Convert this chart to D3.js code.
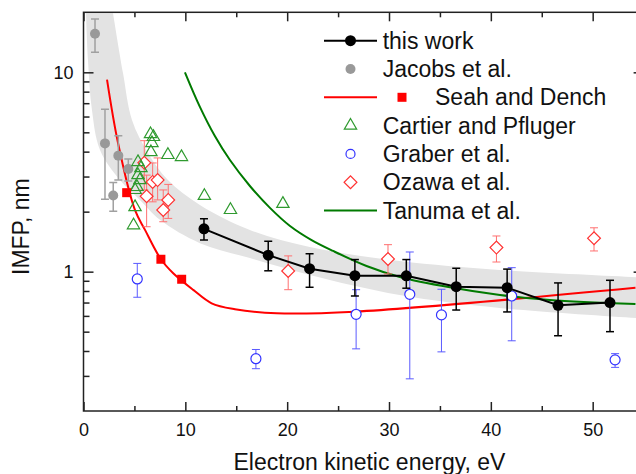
<!DOCTYPE html>
<html>
<head>
<meta charset="utf-8">
<script src="https://cdn.jsdelivr.net/npm/d3@7"></script>
<style>
  body { margin: 0; background: #fff; }
  svg { font-family: "Liberation Sans", Arial, sans-serif; }
</style>
</head>
<body>
<svg id="chart"></svg>
<script>
const width = 636;
const height = 474;

// this work
const thisE = [11.83, 18.14, 22.2, 26.65, 31.7, 36.6, 41.6, 46.6, 51.7];
const thisL = [1.64, 1.21, 1.035, 0.955, 0.953, 0.841, 0.831, 0.678, 0.70];
const thisHi = [1.84, 1.42, 1.23, 1.15, 1.15, 1.04, 1.03, 0.878, 0.905];
const thisLo = [1.44, 1.01, 0.835, 0.755, 0.826, 0.642, 0.628, 0.477, 0.50];

// Jacobs et al.
const jacE = [1.13, 2.11, 3.42, 4.4, 2.92];
const jacL = [15.6, 4.4, 3.82, 3.27, 2.41];
const jacHi = [18.5, 6.52, 4.8, 3.67, 2.8];
const jacLo = [12.6, 2.31, 2.88, 2.85, 2.01];

// Seah and Dench
const seahE = [4.24, 7.6, 9.64];
const seahL = [2.49, 1.154, 0.916];
const seahCurveE = [2.31, 3.39, 5.05, 6.04, 7.6, 8.81, 10.78, 12.58, 14.87, 18.96, 26.64, 54.2];
const seahCurveL = [9.18, 4.42, 2.04, 1.62, 1.154, 0.982, 0.81, 0.694, 0.648, 0.618, 0.630, 0.83];

// Cartier and Pfluger
const cartE = [6.58, 6.87, 6.72, 6.62, 8.29, 9.62, 5.35, 5.64, 5.35, 5.54, 5.25, 5.06, 5.06, 4.91, 11.87, 14.43, 19.58];
const cartL = [4.90, 4.74, 4.42, 3.98, 3.85, 3.76, 3.55, 3.31, 3.05, 2.88, 2.66, 2.57, 2.11, 1.71, 2.40, 2.04, 2.19];

// Graber et al.
const grabE = [5.28, 16.93, 26.77, 32.04, 35.15, 42.05, 52.2];
const grabL = [0.919, 0.366, 0.611, 0.77, 0.607, 0.755, 0.361];
const grabHi = [1.10, 0.407, 0.812, 1.255, 0.816, 1.047, 0.388];
const grabLo = [0.744, 0.326, 0.41, 0.29, 0.396, 0.45, 0.331];

// Ozawa et al.
const ozE = [5.97, 6.79, 7.28, 6.2, 8.32, 7.83, 20.1, 29.9, 40.55, 50.13];
const ozL = [3.52, 2.82, 2.88, 2.39, 2.29, 2.04, 1.008, 1.158, 1.32, 1.47];
const ozHi = [4.54, 3.51, 3.72, 3.05, 2.74, 2.57, 1.20, 1.366, 1.51, 1.66];
const ozLo = [2.57, 2.24, 2.29, 1.68, 1.85, 1.78, 0.812, 0.974, 1.118, 1.27];

// Tanuma et al.
const tanE = [9.96, 11.43, 12.9, 14.38, 16.34, 18.31, 20.28, 22.4, 24.51, 27.79, 31.06, 35.97, 40.9, 45.8, 54.2];
const tanL = [10.0, 6.71, 4.79, 3.63, 2.69, 2.09, 1.695, 1.44, 1.27, 1.068, 0.941, 0.835, 0.764, 0.721, 0.689];

// grey band (universal curve range)
const bandUpE = [2.9, 3.88, 4.76, 6.33, 8.29, 11.43, 16.34, 22.22, 31.05, 40.87, 55];
const bandUpL = [19.8, 9.92, 5.77, 3.94, 2.88, 2.16, 1.62, 1.33, 1.13, 1.02, 0.935];
const bandLoE = [0.25, 0.44, 0.83, 1.62, 3.58, 5.54, 7.51, 11.43, 16.34, 22.22, 31.05, 40.87, 55];
const bandLoL = [19.8, 11.5, 6.47, 4.08, 2.88, 2.29, 1.82, 1.39, 1.17, 0.963, 0.764, 0.658, 0.583];

const xMajor = [0, 10, 20, 30, 40, 50];
const xMinor = [5, 15, 25, 35, 45, 55];
const yMajor = [1, 10];
const yMinor = [0.3, 0.4, 0.5, 0.6, 0.7, 0.8, 0.9, 2, 3, 4, 5, 6, 7, 8, 9];

const legendNames = ["this work", "Jacobs et al.", "Seah and Dench", "Cartier and Pfluger", "Graber et al.", "Ozawa et al.", "Tanuma et al."];

const svg = d3.select("#chart").attr("width", width).attr("height", height);

const x = d3.scaleLinear().domain([0, 55]).range([83.5, 643.6]);
const y = d3.scaleLog().domain([0.2, 20]).range([411, 12.3]);
const x0 = x.range()[0], x1 = x.range()[1], y0 = y.range()[0], y1 = y.range()[1];

svg.append("defs").append("clipPath").attr("id", "plot-clip")
  .append("rect")
  .attr("x", x0).attr("y", y1)
  .attr("width", x1 - x0).attr("height", y0 - y1);

const plot = svg.append("g").attr("clip-path", "url(#plot-clip)");

const zip = (a, b) => a.map((v, i) => [v, b[i]]);
const curve = d3.line().x(d => x(d[0])).y(d => y(d[1])).curve(d3.curveCatmullRom.alpha(0.5));

// band
const upPath = curve(zip(bandUpE, bandUpL));
const loPath = curve(zip(bandLoE, bandLoL).reverse());
plot.append("path")
  .attr("d", upPath + "L" + loPath.slice(1) + "Z")
  .attr("fill", "#e3e3e3")
  .attr("stroke", "none");

// lines
plot.append("path").attr("d", curve(zip(seahCurveE, seahCurveL)))
  .attr("fill", "none").attr("stroke", "#ff0000").attr("stroke-width", 2);
plot.append("path").attr("d", curve(zip(tanE, tanL)))
  .attr("fill", "none").attr("stroke", "#007a00").attr("stroke-width", 2);

function errorBars(g, es, hi, lo, color, width) {
  const cap = 4;
  es.forEach((e, i) => {
    const px = x(e);
    g.append("line").attr("x1", px).attr("x2", px).attr("y1", y(hi[i])).attr("y2", y(lo[i]))
      .attr("stroke", color).attr("stroke-width", width);
    [hi[i], lo[i]].forEach(v => {
      g.append("line").attr("x1", px - cap).attr("x2", px + cap).attr("y1", y(v)).attr("y2", y(v))
        .attr("stroke", color).attr("stroke-width", width);
    });
  });
}

// Jacobs
errorBars(plot, jacE, jacHi, jacLo, "#a0a0a0", 1.5);
plot.selectAll(".jac").data(zip(jacE, jacL)).enter().append("circle")
  .attr("cx", d => x(d[0])).attr("cy", d => y(d[1])).attr("r", 5)
  .attr("fill", "#999999");

// Graber
errorBars(plot, grabE, grabHi, grabLo, "#5a5aff", 1);
plot.selectAll(".grab").data(zip(grabE, grabL)).enter().append("circle")
  .attr("cx", d => x(d[0])).attr("cy", d => y(d[1])).attr("r", 5)
  .attr("fill", "#fff").attr("stroke", "#3333ff").attr("stroke-width", 1.2);

// Ozawa
errorBars(plot, ozE, ozHi, ozLo, "#ff7070", 1);
const diamond = d3.symbol().type(d3.symbolSquare).size(82);
plot.selectAll(".oz").data(zip(ozE, ozL)).enter().append("path")
  .attr("d", diamond)
  .attr("transform", d => `translate(${x(d[0])},${y(d[1])}) rotate(45)`)
  .attr("fill", "#fff").attr("stroke", "#ff3333").attr("stroke-width", 1.2);

// Cartier
const tri = d3.symbol().type(d3.symbolTriangle).size(66);
plot.selectAll(".cart").data(zip(cartE, cartL)).enter().append("path")
  .attr("d", tri)
  .attr("transform", d => `translate(${x(d[0])},${y(d[1])})`)
  .attr("fill", "none").attr("stroke", "#2f9a2f").attr("stroke-width", 1.2);

// Seah squares
plot.selectAll(".seah").data(zip(seahE, seahL)).enter().append("rect")
  .attr("x", d => x(d[0]) - 4.5).attr("y", d => y(d[1]) - 4.5)
  .attr("width", 9).attr("height", 9).attr("fill", "#ff0000");

// this work
plot.append("path").attr("d", d3.line().x(d => x(d[0])).y(d => y(d[1]))(zip(thisE, thisL)))
  .attr("fill", "none").attr("stroke", "#000").attr("stroke-width", 2);
errorBars(plot, thisE, thisHi, thisLo, "#000", 1.5);
plot.selectAll(".tw").data(zip(thisE, thisL)).enter().append("circle")
  .attr("cx", d => x(d[0])).attr("cy", d => y(d[1])).attr("r", 5.5)
  .attr("fill", "#000");

// axes
function styleAxis(g) {
  g.select(".domain").remove();
  g.selectAll("line").attr("stroke", "#222").attr("stroke-width", 1.5);
  g.selectAll("text").attr("font-size", 18).attr("fill", "#111")
    .attr("font-family", "'Liberation Sans', Arial, sans-serif");
}
svg.append("g").attr("transform", `translate(0,${y0})`)
  .call(d3.axisBottom(x).tickValues(xMajor).tickSize(-9).tickPadding(12).tickFormat(d3.format("d")))
  .call(styleAxis);
svg.append("g").attr("transform", `translate(0,${y0})`)
  .call(d3.axisBottom(x).tickValues(xMinor).tickSize(-5).tickFormat(""))
  .call(styleAxis);
svg.append("g").attr("transform", `translate(0,${y1})`)
  .call(d3.axisTop(x).tickValues(xMajor).tickSize(-9).tickFormat(""))
  .call(styleAxis);
svg.append("g").attr("transform", `translate(0,${y1})`)
  .call(d3.axisTop(x).tickValues(xMinor).tickSize(-5).tickFormat(""))
  .call(styleAxis);
svg.append("g").attr("transform", `translate(${x0},0)`)
  .call(d3.axisLeft(y).tickValues(yMajor).tickSize(-10).tickPadding(10).tickFormat(d3.format("d")))
  .call(styleAxis);
svg.append("g").attr("transform", `translate(${x0},0)`)
  .call(d3.axisLeft(y).tickValues(yMinor).tickSize(-6).tickFormat(""))
  .call(styleAxis);
svg.append("g").attr("transform", `translate(${x1},0)`)
  .call(d3.axisRight(y).tickValues(yMajor).tickSize(-10).tickFormat(""))
  .call(styleAxis);
svg.append("g").attr("transform", `translate(${x1},0)`)
  .call(d3.axisRight(y).tickValues(yMinor).tickSize(-6).tickFormat(""))
  .call(styleAxis);

svg.append("rect")
  .attr("x", x0).attr("y", y1).attr("width", x1 - x0).attr("height", y0 - y1)
  .attr("fill", "none").attr("stroke", "#222").attr("stroke-width", 1.5);

// axis titles
svg.append("text")
  .attr("x", (x(0) + x(54.2)) / 2 + 10).attr("y", 469.5)
  .attr("text-anchor", "middle").attr("font-size", 23).attr("fill", "#111")
  .text("Electron kinetic energy, eV");
svg.append("text")
  .attr("transform", `translate(29,${(y0 + y1) / 2 + 15}) rotate(-90)`)
  .attr("text-anchor", "middle").attr("font-size", 23).attr("fill", "#111")
  .text("IMFP, nm");

// legend
const legend = svg.append("g").attr("transform", "translate(324,40.7)");
const rowH = 28.3;
legendNames.forEach((name, i) => {
  const row = legend.append("g").attr("transform", `translate(0,${i * rowH})`);
  const tx = i === 2 ? 111 : 58.7;
  row.append("text").attr("x", tx).attr("y", 0).attr("dy", "0.35em")
    .attr("font-size", 23).attr("fill", "#111").text(name);
  if (i === 0) {
    row.append("line").attr("x1", 0).attr("x2", 53).attr("stroke", "#000").attr("stroke-width", 2);
    row.append("circle").attr("cx", 26.5).attr("r", 5.5).attr("fill", "#000");
  } else if (i === 1) {
    row.append("circle").attr("cx", 26.5).attr("r", 5).attr("fill", "#999999");
  } else if (i === 2) {
    row.append("line").attr("x1", 0).attr("x2", 53).attr("stroke", "#ff0000").attr("stroke-width", 2);
    row.append("rect").attr("x", 73.5).attr("y", -4.5).attr("width", 9).attr("height", 9).attr("fill", "#ff0000");
  } else if (i === 3) {
    row.append("path").attr("d", tri).attr("transform", "translate(26.5,0)")
      .attr("fill", "none").attr("stroke", "#2f9a2f").attr("stroke-width", 1.2);
  } else if (i === 4) {
    row.append("circle").attr("cx", 26.5).attr("r", 4.5)
      .attr("fill", "none").attr("stroke", "#3333ff").attr("stroke-width", 1.2);
  } else if (i === 5) {
    row.append("path").attr("d", diamond).attr("transform", "translate(26.5,0) rotate(45)")
      .attr("fill", "none").attr("stroke", "#ff3333").attr("stroke-width", 1.2);
  } else {
    row.append("line").attr("x1", 0).attr("x2", 53).attr("stroke", "#007a00").attr("stroke-width", 2);
  }
});
</script>
</body>
</html>
